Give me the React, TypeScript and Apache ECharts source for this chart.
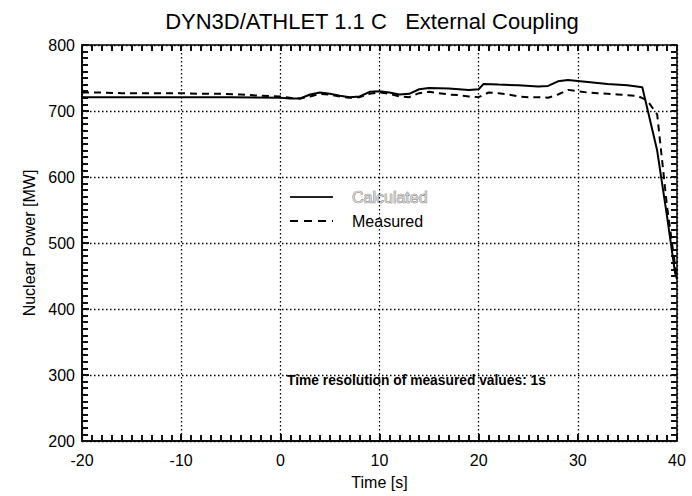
import React, { useEffect, useRef } from "react";
import * as echarts from "echarts";

const titleText = "DYN3D/ATHLET 1.1 C   External Coupling";
const xAxisName = "Time [s]";
const yAxisName = "Nuclear Power [MW]";
const annotation = "Time resolution of measured values: 1s";
const seriesNames = ["Calculated", "Measured"];

const calcTime = [-20, -10, -5, 0, 1, 2, 3, 4, 5, 6, 7, 8, 9, 10, 11, 12, 13, 14, 15, 17, 19, 20, 20.5, 22, 24, 26, 27, 28, 29, 31, 33, 35, 36.5, 38, 39, 39.8, 40];
const calcPower = [721, 721, 721, 720, 719, 719, 725, 728, 726, 723, 721, 722, 729, 730, 728, 725, 726, 733, 735, 734, 732, 733, 741, 740, 739, 737, 738, 745, 747, 744, 741, 739, 736, 640, 540, 455, 445];

const measTime = [-20, -18, -16, -14, -12, -10, -8, -6, -4, -2, 0, 1, 2, 3, 4, 5, 6, 7, 8, 9, 10, 11, 12, 13, 14, 15, 16, 17, 18, 19, 20, 21, 22, 23, 24, 25, 26, 27, 28, 29, 30, 31, 32, 33, 34, 35, 36, 37, 38, 39, 40];
const measPower = [728, 728, 727, 727, 727, 727, 726, 726, 725, 723, 722, 720, 719, 722, 726, 725, 722, 720, 721, 726, 728, 726, 722, 721, 727, 729, 727, 725, 724, 722, 721, 728, 727, 725, 722, 721, 721, 720, 725, 732, 730, 728, 727, 726, 725, 724, 723, 716, 695, 555, 445];

const X_MIN = -20, X_MAX = 40, X_STEP = 10, X_MINOR = 1;
const Y_MIN = 200, Y_MAX = 800, Y_STEP = 100, Y_MINOR = 10;

const FONT = "'Liberation Sans', Arial, Helvetica, sans-serif";

export default function App() {
  const ref = useRef<HTMLDivElement>(null);
  useEffect(() => {
    if (!ref.current) return;
    const chart = echarts.init(ref.current, null, { renderer: "svg" });
    const rect = { left: 82, right: 15, top: 45, bottom: 55 };
    const mkLine = () => ({ show: true, onZero: false, lineStyle: { color: "#000", width: 1.5 } });
    const mkSplit = () => ({ show: true, lineStyle: { color: "#000", width: 1.3, type: [1.5, 2.5] as any } });
    const mkMajorTick = () => ({ show: true, inside: true, length: 7, lineStyle: { color: "#111", width: 2 } });
    const mkMinorTick = () => ({ show: true, splitNumber: 10, length: 5, lineStyle: { color: "#111", width: 1.6 } });
    const mkTickAxis = (min: number, max: number, interval: number, position: string) => ({
      type: "value", gridIndex: 1, min, max, interval, position,
      axisLine: mkLine(),
      axisTick: { show: true, inside: true, length: 6, lineStyle: { color: "#111", width: 2 } },
      axisLabel: { show: false }, splitLine: { show: false },
    });
    const toPairs = (t: number[], v: number[]) => t.map((x, i) => [x, v[i]]);
    chart.setOption({
      animation: false,
      title: {
        text: titleText,
        left: 367,
        top: 5,
        textAlign: "center",
        textStyle: { fontFamily: FONT, fontSize: 22, fontWeight: "normal", color: "#000" },
      },
      grid: [{ ...rect }, { ...rect }],
      xAxis: [
        {
          type: "value", gridIndex: 0, min: X_MIN, max: X_MAX, interval: X_STEP, position: "bottom",
          axisLine: mkLine(), axisTick: mkMajorTick(), minorTick: mkMinorTick(), splitLine: mkSplit(),
          axisLabel: { color: "#000", fontSize: 16, margin: 11, fontFamily: FONT },
          name: xAxisName, nameLocation: "middle", nameGap: 33,
          nameTextStyle: { color: "#000", fontSize: 16, fontFamily: FONT },
        },
        mkTickAxis(X_MIN, X_MAX, X_MINOR, "bottom"),
        mkTickAxis(X_MIN, X_MAX, X_MINOR, "top"),
      ],
      yAxis: [
        {
          type: "value", gridIndex: 0, min: Y_MIN, max: Y_MAX, interval: Y_STEP, position: "left",
          axisLine: mkLine(), axisTick: mkMajorTick(), minorTick: mkMinorTick(), splitLine: mkSplit(),
          axisLabel: { color: "#000", fontSize: 16, margin: 7, fontFamily: FONT },
          name: yAxisName, nameLocation: "middle", nameGap: 40,
          nameTextStyle: { color: "#000", fontSize: 16, fontFamily: FONT },
        },
        mkTickAxis(Y_MIN, Y_MAX, Y_MINOR, "left"),
        mkTickAxis(Y_MIN, Y_MAX, Y_MINOR, "right"),
      ],
      series: [
        {
          name: seriesNames[0], type: "line", data: toPairs(calcTime, calcPower),
          symbol: "none", xAxisIndex: 0, yAxisIndex: 0,
          lineStyle: { color: "#000", width: 2, type: "solid" }, z: 3,
        },
        {
          name: seriesNames[1], type: "line", data: toPairs(measTime, measPower),
          symbol: "none", xAxisIndex: 0, yAxisIndex: 0,
          lineStyle: { color: "#000", width: 2, type: [7, 5] as any }, z: 2,
        },
        { type: "line", data: [], xAxisIndex: 1, yAxisIndex: 1, symbol: "none", silent: true },
      ],
      graphic: [
        { type: "line", shape: { x1: 290, y1: 197, x2: 333, y2: 197 }, style: { stroke: "#222", lineWidth: 2 } },
        { type: "text", x: 352, y: 197, style: { text: seriesNames[0], fill: "#d0d0d0", stroke: "#555", lineWidth: 0.6, font: `16px ${FONT}`, verticalAlign: "middle" } },
        { type: "line", shape: { x1: 290, y1: 221, x2: 333, y2: 221 }, style: { stroke: "#000", lineWidth: 2, lineDash: [8, 6] } },
        { type: "text", x: 352, y: 221, style: { text: seriesNames[1], fill: "#000", font: `16px ${FONT}`, verticalAlign: "middle" } },
        { type: "text", x: 287, y: 380, style: { text: annotation, fill: "#000", font: `bold 13.8px ${FONT}`, verticalAlign: "middle" } },
      ],
    });
    return () => chart.dispose();
  }, []);
  return <div ref={ref} style={{ position: "fixed", left: 0, top: 0, width: 692, height: 496, background: "#fff" }} />;
}
